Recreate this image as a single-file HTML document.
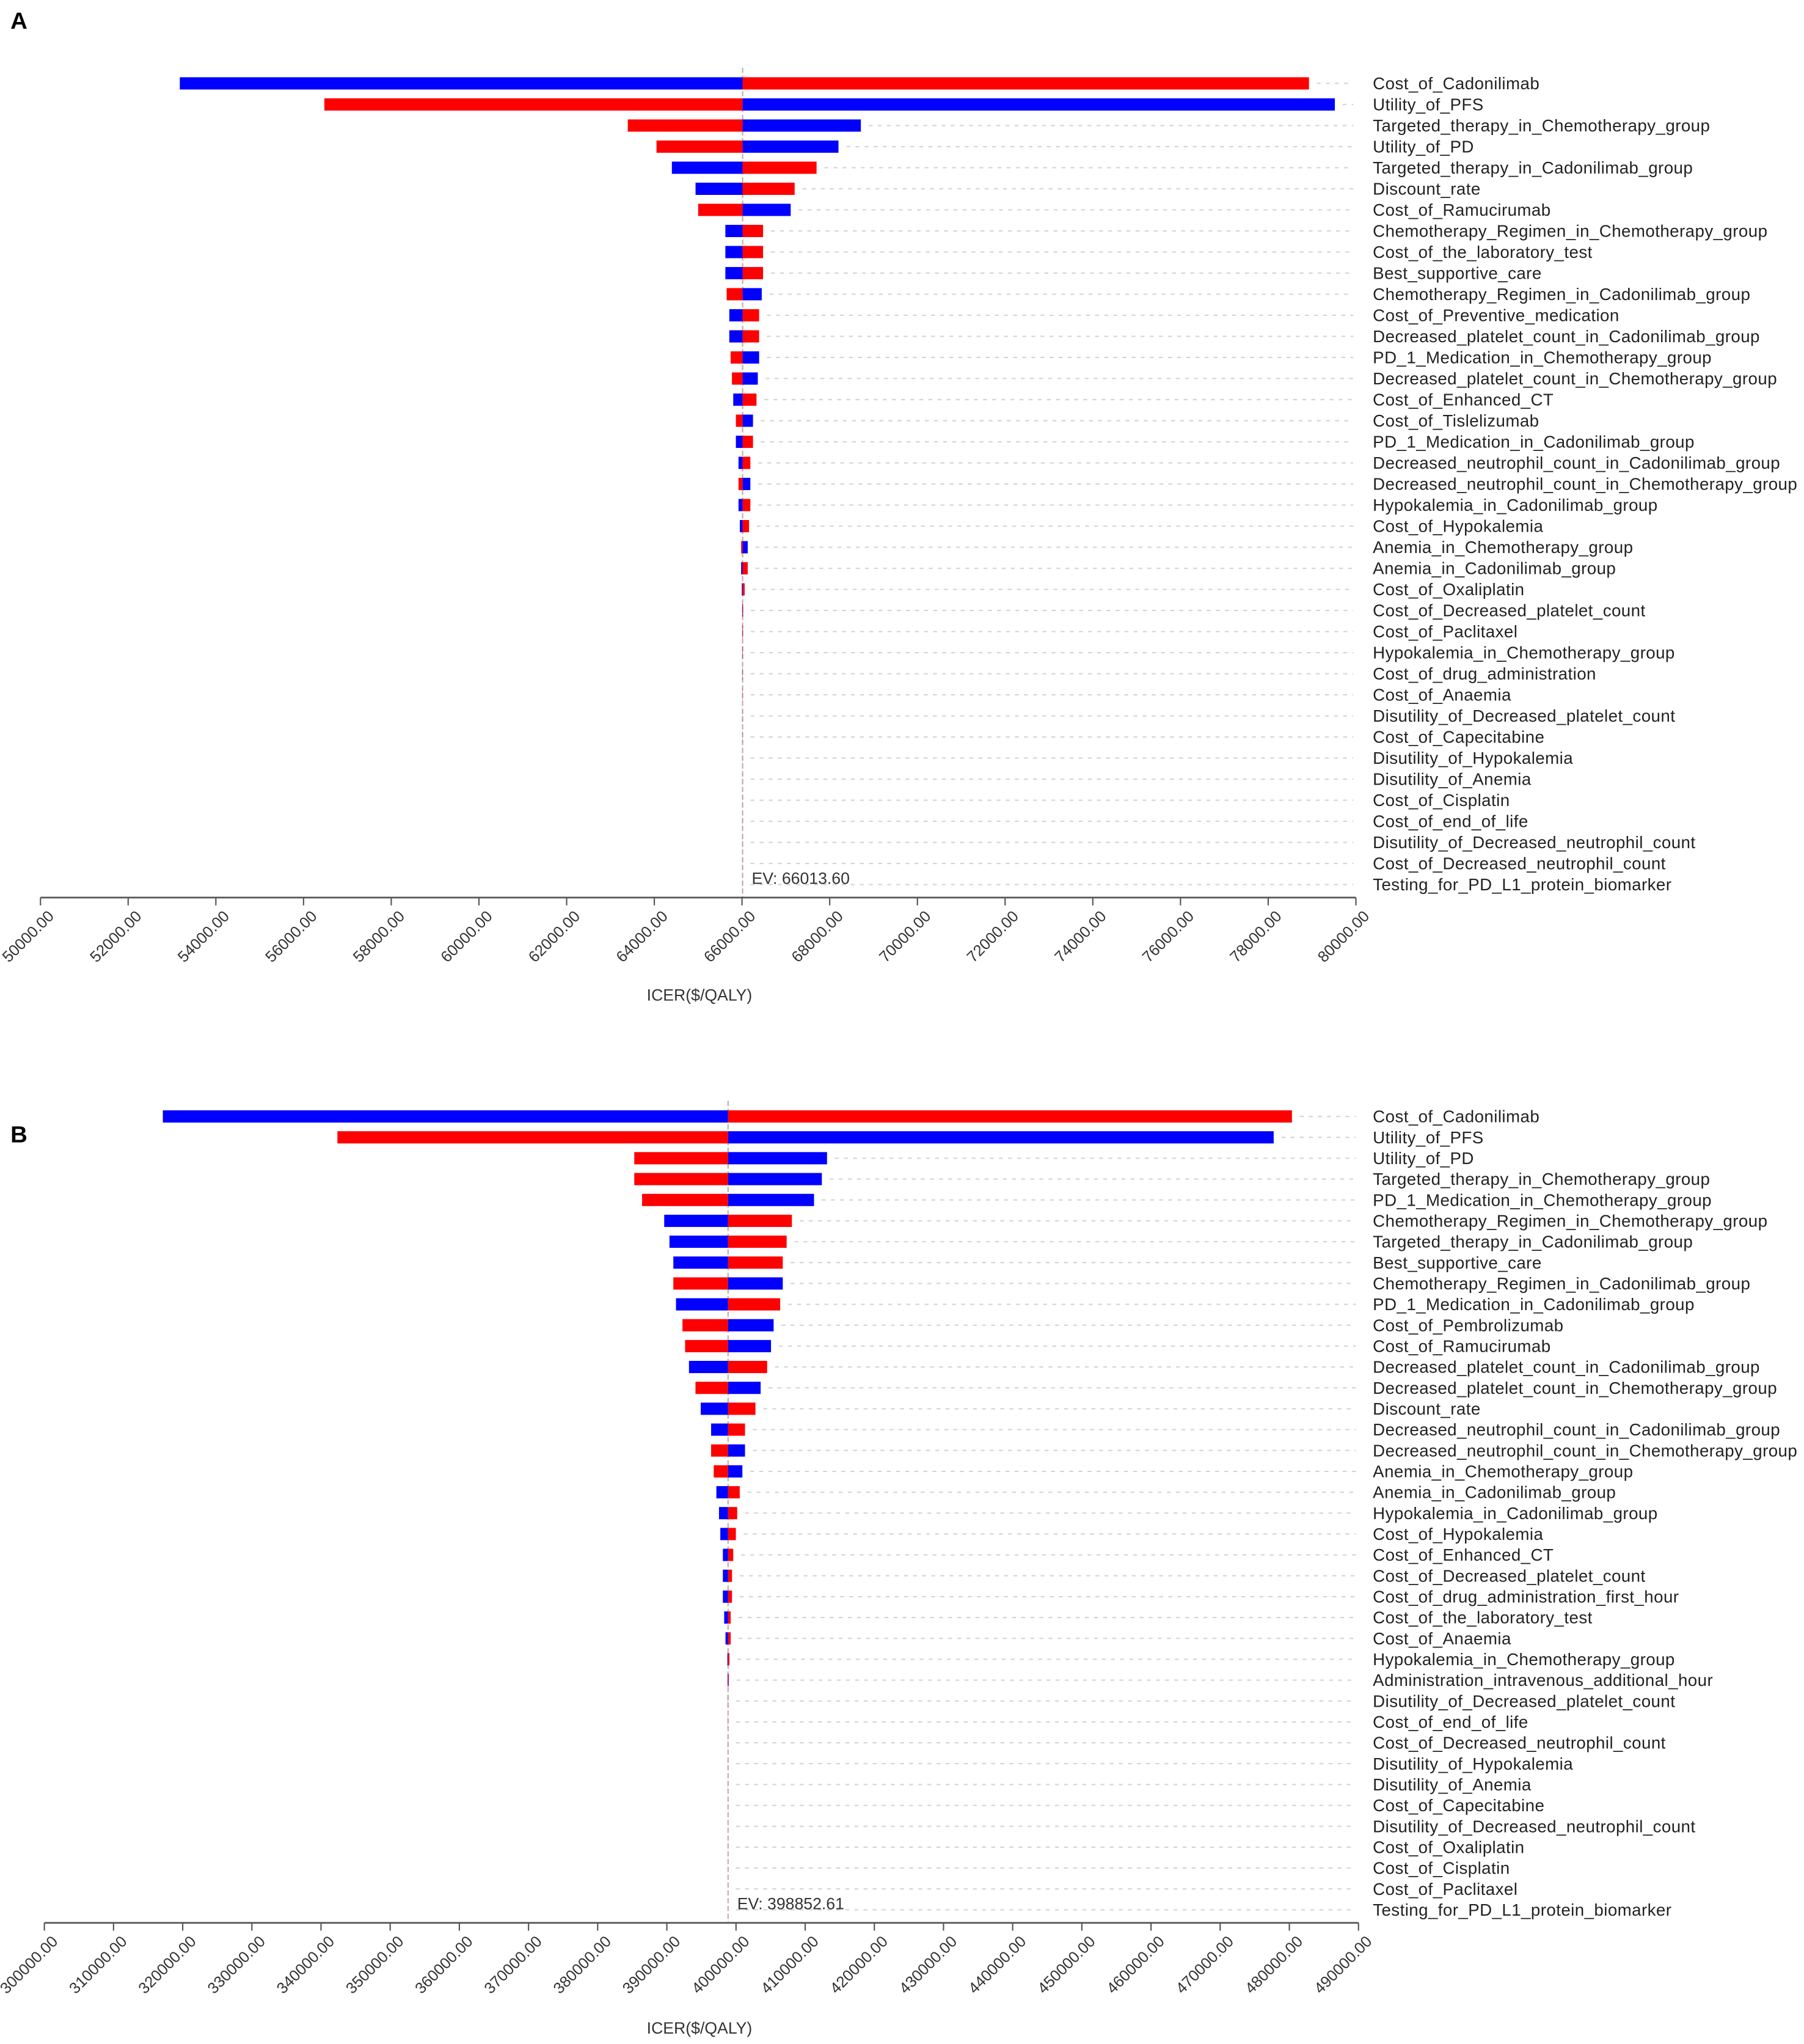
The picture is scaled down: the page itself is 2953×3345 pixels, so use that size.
<!DOCTYPE html>
<html><head><meta charset="utf-8"><style>
html,body{margin:0;padding:0;background:#fff;}
svg{display:block;font-family:"Liberation Sans",sans-serif;}
</style></head><body>
<svg id="chart" width="2953" height="3345" viewBox="0 0 1385 1569" xmlns="http://www.w3.org/2000/svg">
<rect width="1385" height="1569" fill="#fff"/>
<text x="8" y="22" font-size="18" font-weight="bold">A</text>
<text x="8" y="877" font-size="18" font-weight="bold">B</text>
<g id="pa"></g>
<g id="pb"></g>
</svg>
<script>
// Panel A data
const catsA = ["Cost_of_Cadonilimab","Utility_of_PFS","Targeted_therapy_in_Chemotherapy_group","Utility_of_PD","Targeted_therapy_in_Cadonilimab_group","Discount_rate","Cost_of_Ramucirumab","Chemotherapy_Regimen_in_Chemotherapy_group","Cost_of_the_laboratory_test","Best_supportive_care","Chemotherapy_Regimen_in_Cadonilimab_group","Cost_of_Preventive_medication","Decreased_platelet_count_in_Cadonilimab_group","PD_1_Medication_in_Chemotherapy_group","Decreased_platelet_count_in_Chemotherapy_group","Cost_of_Enhanced_CT","Cost_of_Tislelizumab","PD_1_Medication_in_Cadonilimab_group","Decreased_neutrophil_count_in_Cadonilimab_group","Decreased_neutrophil_count_in_Chemotherapy_group","Hypokalemia_in_Cadonilimab_group","Cost_of_Hypokalemia","Anemia_in_Chemotherapy_group","Anemia_in_Cadonilimab_group","Cost_of_Oxaliplatin","Cost_of_Decreased_platelet_count","Cost_of_Paclitaxel","Hypokalemia_in_Chemotherapy_group","Cost_of_drug_administration","Cost_of_Anaemia","Disutility_of_Decreased_platelet_count","Cost_of_Capecitabine","Disutility_of_Hypokalemia","Disutility_of_Anemia","Cost_of_Cisplatin","Cost_of_end_of_life","Disutility_of_Decreased_neutrophil_count","Cost_of_Decreased_neutrophil_count","Testing_for_PD_L1_protein_biomarker"];
const lowA = [53178,56475,63395,64050,64400,64940,65000,65620,65620,65620,65650,65710,65710,65740,65770,65800,65860,65860,65920,65920,65920,65950,65980,65980,65995,66005,66008,66010,66010,66011,66012,66012,66013,66013,66013,66013,66013,66013,66013];
const highA = [78930,79520,68710,68200,67700,67200,67110,66480,66480,66480,66450,66390,66390,66390,66360,66330,66250,66250,66190,66190,66190,66160,66130,66130,66060,66025,66022,66020,66018,66017,66016,66016,66015,66015,66015,66015,66015,66015,66014];
const leftBlueA = [1,0,0,0,1,1,0,1,1,1,0,1,1,0,0,1,0,1,1,0,1,1,0,1,1,1,1,1,1,1,1,1,1,1,1,1,1,1,1];
const ticksA = [50000,52000,54000,56000,58000,60000,62000,64000,66000,68000,70000,72000,74000,76000,78000,80000];
const evA = 66013.60;
// Panel B data
const catsB = ["Cost_of_Cadonilimab","Utility_of_PFS","Utility_of_PD","Targeted_therapy_in_Chemotherapy_group","PD_1_Medication_in_Chemotherapy_group","Chemotherapy_Regimen_in_Chemotherapy_group","Targeted_therapy_in_Cadonilimab_group","Best_supportive_care","Chemotherapy_Regimen_in_Cadonilimab_group","PD_1_Medication_in_Cadonilimab_group","Cost_of_Pembrolizumab","Cost_of_Ramucirumab","Decreased_platelet_count_in_Cadonilimab_group","Decreased_platelet_count_in_Chemotherapy_group","Discount_rate","Decreased_neutrophil_count_in_Cadonilimab_group","Decreased_neutrophil_count_in_Chemotherapy_group","Anemia_in_Chemotherapy_group","Anemia_in_Cadonilimab_group","Hypokalemia_in_Cadonilimab_group","Cost_of_Hypokalemia","Cost_of_Enhanced_CT","Cost_of_Decreased_platelet_count","Cost_of_drug_administration_first_hour","Cost_of_the_laboratory_test","Cost_of_Anaemia","Hypokalemia_in_Chemotherapy_group","Administration_intravenous_additional_hour","Disutility_of_Decreased_platelet_count","Cost_of_end_of_life","Cost_of_Decreased_neutrophil_count","Disutility_of_Hypokalemia","Disutility_of_Anemia","Cost_of_Capecitabine","Disutility_of_Decreased_neutrophil_count","Cost_of_Oxaliplatin","Cost_of_Cisplatin","Cost_of_Paclitaxel","Testing_for_PD_L1_protein_biomarker"];
const lowB = [317130,342370,385290,385290,386420,389620,390380,390940,390940,391320,392260,392640,393200,394140,394900,396400,396400,396780,397160,397540,397730,398100,398100,398100,398290,398480,398750,398780,398840,398845,398848,398850,398850,398851,398851,398852,398852,398852,398852];
const highB = [480380,477740,413160,412410,411280,408080,407320,406760,406760,406380,405440,405060,404500,403560,402810,401300,401300,400920,400540,400170,399980,399600,399420,399420,399230,399230,399050,398950,398870,398865,398860,398858,398857,398856,398855,398854,398854,398853,398853];
const leftBlueB = [1,0,0,0,0,1,1,1,0,1,0,0,1,0,1,1,0,0,1,1,1,1,1,1,1,1,1,1,1,1,1,1,1,1,1,1,1,1,1];
const ticksB = [300000,310000,320000,330000,340000,350000,360000,370000,380000,390000,400000,410000,420000,430000,440000,450000,460000,470000,480000,490000];
const evB = 398852.61;

const NS = "http://www.w3.org/2000/svg";
function mk(parent, tag, attrs, text){
  const e = document.createElementNS(NS, tag);
  for (const k in attrs) e.setAttribute(k, attrs[k]);
  if (text !== undefined) e.textContent = text;
  parent.appendChild(e);
  return e;
}
function draw(g, cats, lo, hi, leftBlue, ticks, ev, cfg){
  const x = v => cfg.x0 + (v - ticks[0]) / (ticks[ticks.length-1] - ticks[0]) * (cfg.x1 - cfg.x0);
  const y = i => cfg.y0 + i * (cfg.yN - cfg.y0) / (cats.length - 1);
  const evx = x(ev);
  const evl = mk(g, "line", {x1:evx, x2:evx, y1:cfg.y0-12, y2:cfg.axisY, stroke:"#c8a8a8", "stroke-width":1, "stroke-dasharray":"4,2"});
  
  
  cats.forEach((c, i) => {
    const yc = y(i);
    const xl = x(lo[i]), xh = x(hi[i]);
    const gl = mk(g, "line", {x1:Math.max(xh, evx)+6, x2:cfg.x1-2, y1:yc, y2:yc, stroke:"#d4d4d4", "stroke-width":1, "stroke-dasharray":"3,4"});
    
    
    const cl = leftBlue[i] ? "#0000ff" : "#ff0000";
    const cr = leftBlue[i] ? "#ff0000" : "#0000ff";
    const b1 = mk(g, "rect", {x:xl, y:yc-4.7, width:Math.max(evx-xl,0), height:9.4, fill:cl});
    
    
    const b2 = mk(g, "rect", {x:evx, y:yc-4.7, width:Math.max(xh-evx,0), height:9.4, fill:cr});
    
    
    const t = mk(g, "text", {x:cfg.labelX, y:yc+4.5, "font-size":13, "letter-spacing":0.2, fill:"#222"}, c);
    
    
  });
  const evt = mk(g, "text", {x:evx+7, y:cfg.yN-0.5, "font-size":12.5, fill:"#333"}, "EV: " + ev.toFixed(2));
  
  
  const ax = mk(g, "line", {x1:cfg.x0, x2:cfg.x1, y1:cfg.axisY, y2:cfg.axisY, stroke:"#555", "stroke-width":1.3});
  
  
  ticks.forEach(v => {
    const tx = x(v);
    const tk = mk(g, "line", {x1:tx, x2:tx, y1:cfg.axisY, y2:cfg.axisY+6, stroke:"#555", "stroke-width":1});
    
    
    const ax0 = tx + 11, ay0 = cfg.axisY + 15;
    const tl = mk(g, "text", {x:ax0, y:ay0, "font-size":12, fill:"#333", "text-anchor":"end", transform:"rotate(-45 " + ax0 + " " + ay0 + ")"}, v.toFixed(2));
    
    
  });
  const at = mk(g, "text", {x:cfg.titleX, y:cfg.titleY, "font-size":12.5, fill:"#333", "text-anchor":"middle"}, "ICER($/QALY)");
  
  
}
draw(document.getElementById("pa"), catsA, lowA, highA, leftBlueA, ticksA, evA,
  {x0:31, x1:1041, y0:64, yN:679, axisY:689, labelX:1054, titleX:537, titleY:768});
draw(document.getElementById("pb"), catsB, lowB, highB, leftBlueB, ticksB, evB,
  {x0:34, x1:1043, y0:857, yN:1466, axisY:1476, labelX:1054, titleX:537, titleY:1561});
</script>
</body></html>
